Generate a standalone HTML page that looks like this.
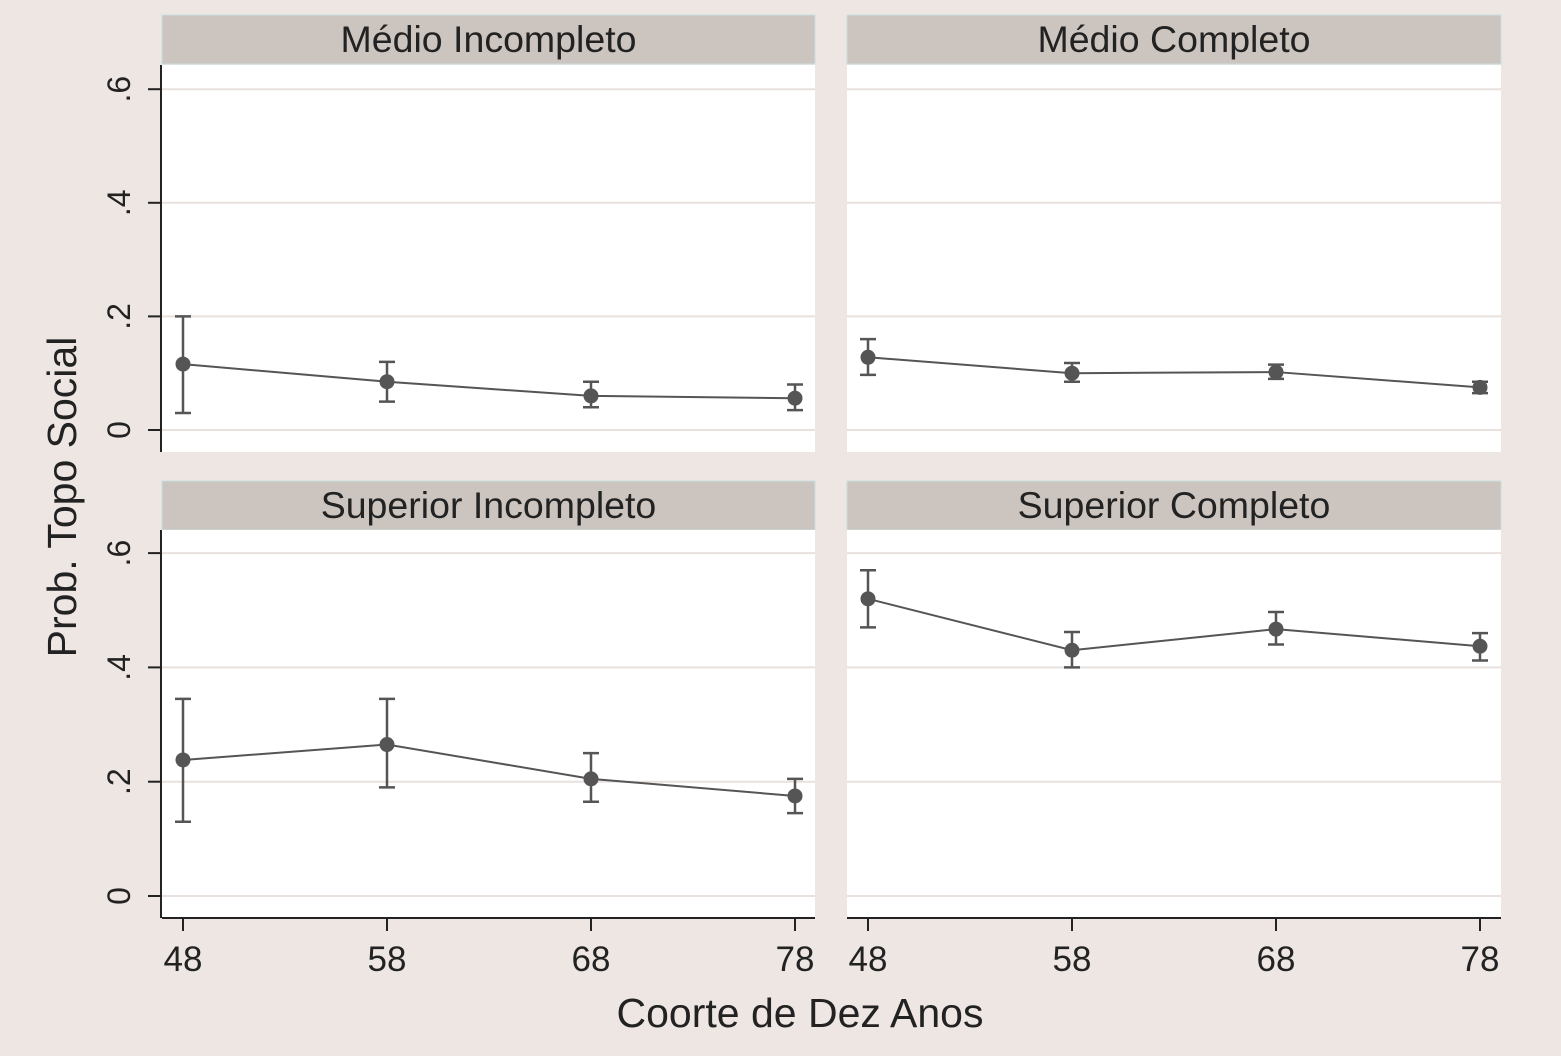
<!DOCTYPE html>
<html><head><meta charset="utf-8"><style>
body{margin:0;background:#ede6e3;}
svg{display:block;font-family:"Liberation Sans",sans-serif;}
</style></head><body>
<svg id="c" width="1561" height="1056" xmlns="http://www.w3.org/2000/svg">
<rect width="1561" height="1056" fill="#ede6e3"/>
<g id="g"></g>
<text x="800" y="1027" font-size="41" text-anchor="middle" fill="#222">Coorte de Dez Anos</text>
<text transform="translate(76,497) rotate(-90)" font-size="41" text-anchor="middle" fill="#222">Prob. Topo Social</text>
</svg>
<script>
const panelTitles=["Médio Incompleto","Médio Completo","Superior Incompleto","Superior Completo"];
const cohorts=[48,58,68,78];
const yTicks=[0,0.2,0.4,0.6];
const yTickLabels=["0",".2",".4",".6"];
const est=[[0.116,0.085,0.060,0.056],[0.128,0.100,0.102,0.075],[0.238,0.265,0.205,0.175],[0.520,0.430,0.467,0.437]];
const lo=[[0.03,0.05,0.04,0.035],[0.097,0.085,0.09,0.065],[0.13,0.19,0.165,0.145],[0.47,0.40,0.44,0.412]];
const hi=[[0.20,0.12,0.085,0.08],[0.16,0.118,0.115,0.085],[0.345,0.345,0.25,0.205],[0.57,0.462,0.497,0.46]];
const NS="http://www.w3.org/2000/svg";
const g=document.getElementById('g');
function mk(t,a,p){const e=document.createElementNS(NS,t);for(const k in a)e.setAttribute(k,a[k]);(p||g).appendChild(e);return e;}
const layout=[{x0:162,x1:815,hy:15,py:65,py1:452,zero:430,scale:568},{x0:847,x1:1501,hy:15,py:65,py1:452,zero:430,scale:568},{x0:162,x1:815,hy:481,py:530,py1:918,zero:896,scale:571.5},{x0:847,x1:1501,hy:481,py:530,py1:918,zero:896,scale:571.5}];
layout.forEach((L,i)=>{
 const xs=c=>L.x0+21+(c-48)/30*612;
 const ys=v=>L.zero-v*L.scale;
 const h=mk('rect',{x:L.x0,y:L.hy,width:L.x1-L.x0,height:49,fill:'#cbc4bf',stroke:'#c9dfe2','stroke-width':1});
 
 
 const t=mk('text',{x:(L.x0+L.x1)/2,y:L.hy+37,'font-size':37.5,'text-anchor':'middle',fill:'#222'});
 t.textContent=panelTitles[i];
 
 
 const p=mk('rect',{x:L.x0,y:L.py,width:L.x1-L.x0,height:L.py1-L.py,fill:'#fff'});
 
 
 yTicks.forEach((v,k)=>{
  const gl=mk('line',{x1:L.x0,x2:L.x1,y1:ys(v),y2:ys(v),stroke:'#e8e1de','stroke-width':2});
  
  
  if(i%2==0){
   const tk=mk('line',{x1:L.x0-14,x2:L.x0,y1:ys(v),y2:ys(v),stroke:'#222','stroke-width':2});
   
   
   const tl=mk('text',{transform:`translate(${L.x0-32},${ys(v)}) rotate(-90)`,'font-size':32,'text-anchor':'middle',fill:'#222'});
   tl.textContent=yTickLabels[k];
   
   
  }
 });
 if(i%2==0){const a=mk('line',{x1:L.x0-1,x2:L.x0-1,y1:L.py,y2:L.py1,stroke:'#222','stroke-width':2});
  }
 if(i>=2){
  const a=mk('line',{x1:L.x0,x2:L.x1,y1:L.py1,y2:L.py1,stroke:'#222','stroke-width':2});
  
  cohorts.forEach(c=>{
   const tk=mk('line',{x1:xs(c),x2:xs(c),y1:L.py1,y2:L.py1+13,stroke:'#222','stroke-width':2});
   
   const tl=mk('text',{x:xs(c),y:L.py1+53,'font-size':35,'text-anchor':'middle',fill:'#222'});
   tl.textContent=c;
   
  });
 }
 const ln=mk('polyline',{points:cohorts.map((c,j)=>xs(c)+','+ys(est[i][j])).join(' '),fill:'none',stroke:'#555','stroke-width':2});
 
 cohorts.forEach((c,j)=>{
  const x=xs(c);
  const eb=mk('path',{d:`M${x},${ys(lo[i][j])}V${ys(hi[i][j])}M${x-8},${ys(lo[i][j])}H${x+8}M${x-8},${ys(hi[i][j])}H${x+8}`,stroke:'#555','stroke-width':2.5,fill:'none'});
  
  const pt=mk('circle',{cx:x,cy:ys(est[i][j]),r:7.5,fill:'#555'});
  
 });
});
</script>
</body></html>
